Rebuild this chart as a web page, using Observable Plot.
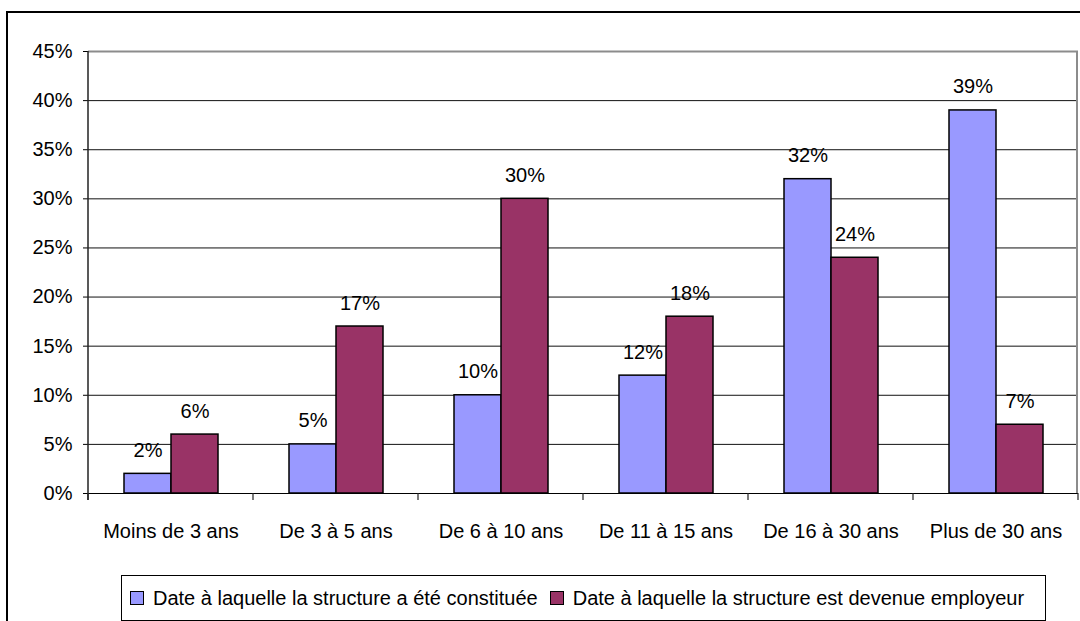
<!DOCTYPE html>
<html>
<head>
<meta charset="utf-8">
<script src="https://cdn.jsdelivr.net/npm/d3@7"></script>
<script src="https://cdn.jsdelivr.net/npm/@observablehq/plot@0.6"></script>
<style>
  html, body { margin: 0; padding: 0; background: #fff; overflow: hidden; width: 1080px; height: 621px; }
  #frame { position: absolute; left: 6px; top: 11px; width: 1100px; height: 700px; border: 2px solid #000; }
  #chart { position: absolute; left: 0; top: 0; }
  #legend { position: absolute; left: 121px; top: 575px; width: 925px; height: 46px; box-sizing: border-box;
            border: 1px solid #000; background: #fff; display: flex; align-items: center; padding-left: 8px;
            font-family: "Liberation Sans", Arial, sans-serif; font-size: 20px; color: #000; white-space: nowrap; }
  .item { display: flex; align-items: center; margin-right: 12px; }
  .sw { width: 12px; height: 12px; border: 1.5px solid #000; margin-right: 9px; }
</style>
</head>
<body>
<div id="frame"></div>
<div id="chart"></div>
<div id="legend"></div>
<script>
const categories = ["Moins de 3 ans", "De 3 à 5 ans", "De 6 à 10 ans", "De 11 à 15 ans", "De 16 à 30 ans", "Plus de 30 ans"];
const seriesNames = ["Date à laquelle la structure a été constituée", "Date à laquelle la structure est devenue employeur"];
const constituee = [2, 5, 10, 12, 32, 39];
const employeur = [6, 17, 30, 18, 24, 7];
const colors = ["#9999FF", "#993366"];
const yTicks = [0, 5, 10, 15, 20, 25, 30, 35, 40, 45];

const seriesValues = [constituee, employeur];
const rows = [];
categories.forEach((c, i) => {
  seriesNames.forEach((s, j) => rows.push({category: c, series: s, value: seriesValues[j][i]}));
});
const yMax = d3.max(yTicks);

const chart = Plot.plot({
  width: 1080,
  height: 560,
  marginLeft: 88,
  marginRight: 2,
  marginTop: 51,
  marginBottom: 67,
  style: {fontFamily: "'Liberation Sans', Arial, sans-serif", fontSize: "20px", background: "transparent", color: "#000"},
  fx: {domain: categories, padding: 0, label: null},
  x: {domain: seriesNames, paddingInner: 0, paddingOuter: 0.72, axis: null},
  y: {domain: [0, yMax], axis: null},
  color: {domain: seriesNames, range: colors},
  marks: [
    Plot.gridY(yTicks, {stroke: "#111", strokeOpacity: 1, strokeWidth: 1}),
    Plot.ruleY([yMax], {stroke: "#8c8c8c", strokeWidth: 2}),
    Plot.axisY(yTicks, {anchor: "left", tickSize: 5, tickPadding: 11, tickFormat: d => d + "%", stroke: "#000", label: null}),
    Plot.axisFx({anchor: "bottom", tickSize: 0, tickPadding: 30, label: null}),
    Plot.barY(rows, {fx: "category", x: "series", y: "value", fill: "series", stroke: "#000", strokeWidth: 1.5}),
    Plot.text(rows, {fx: "category", x: "series", y: "value", text: d => d.value + "%", lineAnchor: "bottom", dy: -17, fill: "#000"}),
    Plot.ruleY([0], {stroke: "#000", strokeWidth: 1})
  ]
});

// Excel-like axis line, category separator ticks and plot-area right border, from the chart's own scales
const fx = chart.scale("fx");
const y = chart.scale("y");
const g = d3.select(chart).append("g");
const y0 = y.apply(0), yTop = y.apply(yMax);
const bounds = categories.map(c => fx.apply(c)).concat([fx.apply(categories[categories.length - 1]) + fx.bandwidth]);
g.append("line").attr("x1", bounds[0]).attr("x2", bounds[0]).attr("y1", yTop).attr("y2", y0 + 7)
  .attr("stroke", "#222").attr("stroke-width", 1.5);
g.append("line").attr("x1", bounds[bounds.length - 1] - 1).attr("x2", bounds[bounds.length - 1] - 1).attr("y1", yTop).attr("y2", y0)
  .attr("stroke", "#8c8c8c").attr("stroke-width", 2);
bounds.forEach(b => {
  g.append("line").attr("x1", b).attr("x2", b).attr("y1", y0).attr("y2", y0 + 7).attr("stroke", "#222").attr("stroke-width", 1.2);
});

document.getElementById("chart").appendChild(chart);

const color = chart.scale("color");
const legend = document.getElementById("legend");
seriesNames.forEach((s, i) => {
  const item = document.createElement("div");
  item.className = "item";
  const sw = document.createElement("div");
  sw.className = "sw";
  sw.style.background = color.range[i];
  const t = document.createElement("span");
  t.textContent = s;
  item.appendChild(sw);
  item.appendChild(t);
  legend.appendChild(item);
});
</script>
</body>
</html>
